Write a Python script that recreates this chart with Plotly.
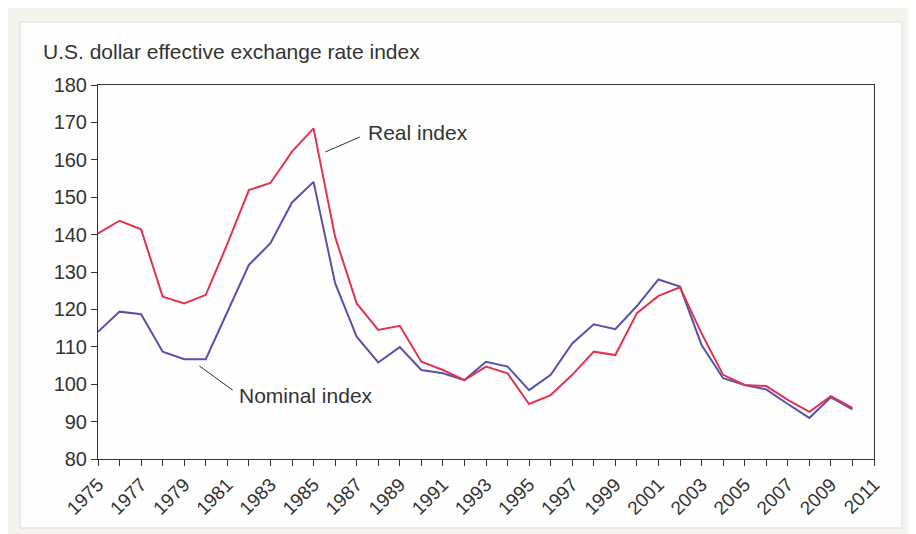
import plotly.graph_objects as go

years = list(range(1975, 2011))

real_index = [
    140.3, 143.7, 141.4, 123.4, 121.6, 123.9, 137.5, 151.9, 153.8, 162.2,
    168.4, 139.4, 121.6, 114.5, 115.6, 106.0, 103.8, 101.1, 104.7, 102.9,
    94.7, 97.1, 102.5, 108.7, 107.8, 119.0, 123.6, 125.9, 113.6, 102.5,
    99.8, 99.5, 95.8, 92.6, 96.8, 93.7,
]

nominal_index = [
    114.0, 119.4, 118.7, 108.7, 106.7, 106.7, 119.3, 131.9, 137.7, 148.6,
    154.1, 127.0, 112.7, 105.8, 109.9, 103.8, 102.9, 101.1, 106.0, 104.7,
    98.4, 102.5, 110.9, 116.0, 114.7, 120.9, 128.0, 126.1, 110.5, 101.6,
    99.8, 98.6, 94.7, 91.0, 96.5, 93.3,
]

font = "Liberation Sans, Arial, sans-serif"
ink = "#333333"

fig = go.Figure()

fig.add_trace(
    go.Scatter(
        x=years,
        y=nominal_index,
        mode="lines",
        name="Nominal index",
        line=dict(color="#5552ad", width=2),
    )
)
fig.add_trace(
    go.Scatter(
        x=years,
        y=real_index,
        mode="lines",
        name="Real index",
        line=dict(color="#e2334f", width=2),
    )
)

# background panels
fig.add_shape(type="rect", xref="paper", yref="paper", layer="below",
              x0=-95 / 776, x1=1 + 45 / 776, y0=-80 / 374, y1=1 + 80 / 374,
              fillcolor="#f5f3ee", line=dict(width=0))
fig.add_shape(type="rect", xref="paper", yref="paper", layer="below",
              x0=-78 / 776, x1=1 + 28 / 776, y0=-69 / 374, y1=1 + 63 / 374,
              fillcolor="#fefefe", line=dict(color="#dcdcdc", width=1))

# leader lines for labels
fig.add_shape(type="line", x0=1985.55, y0=162.1, x1=1987.15, y1=166.1,
              line=dict(color=ink, width=1))
fig.add_shape(type="line", x0=1979.7, y0=104.9, x1=1981.25, y1=98.4,
              line=dict(color=ink, width=1))

fig.add_annotation(x=1987.45, y=167.2, text="Real index", showarrow=False,
                   xanchor="left", yanchor="middle",
                   font=dict(family=font, size=21, color=ink))
fig.add_annotation(x=1981.45, y=97.0, text="Nominal index", showarrow=False,
                   xanchor="left", yanchor="middle",
                   font=dict(family=font, size=21, color=ink))

fig.update_layout(
    width=908,
    height=526,
    margin=dict(l=90, r=42, t=77, b=75),
    paper_bgcolor="#e8ebee",
    plot_bgcolor="rgba(0,0,0,0)",
    showlegend=False,
    font=dict(family=font, size=20, color=ink),
    title=dict(
        text="U.S. dollar effective exchange rate index",
        x=35 / 908,
        xanchor="left",
        y=1 - 44 / 526,
        yanchor="middle",
        font=dict(family=font, size=21, color=ink),
    ),
    xaxis=dict(
        range=[1975, 2011],
        dtick=2,
        tick0=1975,
        tickangle=-45,
        ticks="outside",
        ticklen=6,
        tickcolor=ink,
        showline=True,
        linecolor=ink,
        linewidth=1,
        mirror=True,
        showgrid=False,
        zeroline=False,
        tickfont=dict(family=font, size=19, color=ink),
        minor=dict(dtick=1, ticks="outside", ticklen=6, tickcolor=ink),
    ),
    yaxis=dict(
        range=[80, 180],
        dtick=10,
        ticks="outside",
        ticklen=6,
        tickcolor=ink,
        showline=True,
        linecolor=ink,
        linewidth=1,
        mirror=True,
        showgrid=False,
        zeroline=False,
        tickfont=dict(family=font, size=20, color=ink),
    ),
)

fig.write_html("out.html")
